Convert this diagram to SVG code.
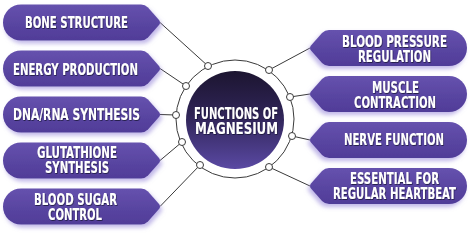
<svg xmlns="http://www.w3.org/2000/svg" width="474" height="233" viewBox="0 0 474 233">
<defs>
<linearGradient id="pillGrad" x1="0" y1="0" x2="0" y2="1">
<stop offset="0" stop-color="#6652ae"/>
<stop offset="0.5" stop-color="#5a46a2"/>
<stop offset="1" stop-color="#503c98"/>
</linearGradient>
<linearGradient id="coreGrad" x1="0" y1="0" x2="0" y2="1">
<stop offset="0" stop-color="#1c1530"/>
<stop offset="0.45" stop-color="#2f2456"/>
<stop offset="1" stop-color="#5a49a3"/>
</linearGradient>
<filter id="pillShadow" x="-10%" y="-20%" width="125%" height="150%">
<feDropShadow dx="2" dy="3" stdDeviation="2" flood-color="#8c7bd6" flood-opacity="0.55"/>
</filter>
<filter id="txtShadow" x="-5%" y="-20%" width="110%" height="150%">
<feDropShadow dx="0.6" dy="1" stdDeviation="0.5" flood-color="#120a28" flood-opacity="0.7"/>
</filter>
<path id="pillL" d="M 21,-18 H 141 Q 145,-18 148,-15 L 159,-2.6 Q 161,0 159,2.6 L 148,15 Q 145,18 141,18 H 21 A 18 18 0 0 1 21,-18 Z"/>
</defs>
<style>
.pill{fill:url(#pillGrad);filter:url(#pillShadow)}
.lbl{font-family:'DejaVu Sans Condensed','DejaVu Sans',sans-serif;font-stretch:condensed;font-weight:bold;font-size:15px;fill:#ffffff;text-anchor:middle;filter:url(#txtShadow)}
.ctr{font-size:16px}
.con{stroke:#3a3a3a;stroke-width:1;fill:none}
.dot{fill:#ffffff;stroke:#3a3a3a;stroke-width:1}
</style>
<rect width="474" height="233" fill="#ffffff"/>

<g id="connectors">
<line class="con" x1="160" y1="22.5" x2="208" y2="66"/>
<line class="con" x1="160" y1="68.5" x2="186" y2="86"/>
<line class="con" x1="160" y1="114.5" x2="176" y2="115"/>
<line class="con" x1="160" y1="160.5" x2="182" y2="142"/>
<line class="con" x1="160" y1="206.5" x2="200" y2="165"/>
<line class="con" x1="310" y1="48" x2="269" y2="70"/>
<line class="con" x1="310" y1="94" x2="290" y2="97"/>
<line class="con" x1="310" y1="140" x2="292" y2="136"/>
<line class="con" x1="310" y1="186" x2="269" y2="167"/>
</g>

<g id="center">
<circle class="con" cx="235" cy="119" r="59"/>
<circle cx="235" cy="120" r="49" fill="url(#coreGrad)"/>
<text class="lbl ctr" x="236" y="119" textLength="84" lengthAdjust="spacingAndGlyphs">FUNCTIONS OF</text>
<text class="lbl ctr" x="236.5" y="134" textLength="83" lengthAdjust="spacingAndGlyphs">MAGNESIUM</text>
</g>

<g id="connector-dots">
<circle class="dot" cx="208" cy="66" r="3.5"/>
<circle class="dot" cx="186" cy="86" r="3.5"/>
<circle class="dot" cx="176" cy="115" r="3.5"/>
<circle class="dot" cx="182" cy="142" r="3.5"/>
<circle class="dot" cx="200" cy="165" r="3.5"/>
<circle class="dot" cx="269" cy="70" r="3.5"/>
<circle class="dot" cx="290" cy="97" r="3.5"/>
<circle class="dot" cx="292" cy="136" r="3.5"/>
<circle class="dot" cx="269" cy="167" r="3.5"/>
</g>

<g id="bone-structure">
<use href="#pillL" class="pill" transform="translate(0,22.5)"/>
<text class="lbl" x="76.5" y="28" textLength="103" lengthAdjust="spacingAndGlyphs">BONE STRUCTURE</text>
</g>
<g id="energy-production">
<use href="#pillL" class="pill" transform="translate(0,68.5)"/>
<text class="lbl" x="75.5" y="75" textLength="125" lengthAdjust="spacingAndGlyphs">ENERGY PRODUCTION</text>
</g>
<g id="dna-rna-synthesis">
<use href="#pillL" class="pill" transform="translate(0,114.5)"/>
<text class="lbl" x="76.5" y="120" textLength="127" lengthAdjust="spacingAndGlyphs">DNA/RNA SYNTHESIS</text>
</g>
<g id="glutathione-synthesis">
<use href="#pillL" class="pill" transform="translate(0,160.5)"/>
<text class="lbl" x="77" y="158" textLength="80" lengthAdjust="spacingAndGlyphs">GLUTATHIONE</text>
<text class="lbl" x="77" y="173" textLength="64" lengthAdjust="spacingAndGlyphs">SYNTHESIS</text>
</g>
<g id="blood-sugar-control">
<use href="#pillL" class="pill" transform="translate(0,206.5)"/>
<text class="lbl" x="75.5" y="205" textLength="83" lengthAdjust="spacingAndGlyphs">BLOOD SUGAR</text>
<text class="lbl" x="75" y="220" textLength="54" lengthAdjust="spacingAndGlyphs">CONTROL</text>
</g>

<g id="blood-pressure-regulation">
<use href="#pillL" class="pill" transform="translate(470,48) scale(-1,1)"/>
<text class="lbl" x="394.5" y="47" textLength="105" lengthAdjust="spacingAndGlyphs">BLOOD PRESSURE</text>
<text class="lbl" x="394.5" y="62" textLength="73" lengthAdjust="spacingAndGlyphs">REGULATION</text>
</g>
<g id="muscle-contraction">
<use href="#pillL" class="pill" transform="translate(470,94) scale(-1,1)"/>
<text class="lbl" x="395.5" y="93" textLength="47" lengthAdjust="spacingAndGlyphs">MUSCLE</text>
<text class="lbl" x="395" y="107.5" textLength="82" lengthAdjust="spacingAndGlyphs">CONTRACTION</text>
</g>
<g id="nerve-function">
<use href="#pillL" class="pill" transform="translate(470,140) scale(-1,1)"/>
<text class="lbl" x="394" y="145" textLength="100" lengthAdjust="spacingAndGlyphs">NERVE FUNCTION</text>
</g>
<g id="essential-heartbeat">
<use href="#pillL" class="pill" transform="translate(470,186) scale(-1,1)"/>
<text class="lbl" x="394.5" y="184" textLength="89" lengthAdjust="spacingAndGlyphs">ESSENTIAL FOR</text>
<text class="lbl" x="394.5" y="199" textLength="123" lengthAdjust="spacingAndGlyphs">REGULAR HEARTBEAT</text>
</g>
</svg>
